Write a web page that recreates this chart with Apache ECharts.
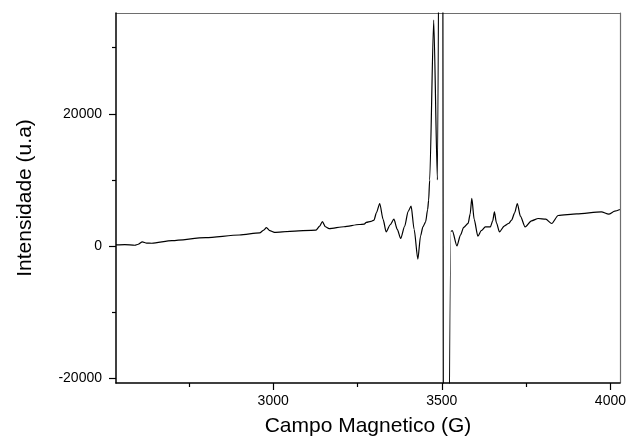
<!DOCTYPE html>
<html>
<head>
<meta charset="utf-8">
<script src="https://cdn.jsdelivr.net/npm/echarts@6/dist/echarts.min.js"></script>
<style>
html,body{margin:0;padding:0;background:#fff;}
#chart{width:629px;height:444px;}
</style>
</head>
<body>
<div id="chart"></div>
<script>
// Magnetic field (G)
const fieldG = [
  2534, 2560, 2590, 2600, 2612, 2625, 2640, 2700, 2800, 2900,
  2960, 2972, 2980, 2990, 3004, 3050, 3127, 3138, 3146, 3155,
  3166, 3210, 3255, 3270, 3276, 3290, 3299, 3306, 3316, 3326,
  3335, 3347, 3358, 3368, 3378, 3390, 3400, 3409, 3418, 3429,
  3437, 3444, 3452, 3458, 3461, 3464, 3476, 3487, 3500, 3508,
  3527, 3531, 3545, 3555, 3565, 3578, 3584, 3589, 3596, 3607,
  3617, 3629, 3644, 3651, 3656, 3662, 3671, 3685, 3698, 3707,
  3716, 3724, 3733, 3747, 3766, 3786, 3808, 3826, 3845, 3900,
  3973, 3995, 4013, 4028
];
// Intensity (u.a)
const intensity = [
  150, 200, 100, 250, 600, 420, 400, 800, 1250, 1650,
  1970, 2400, 2780, 2300, 2050, 2200, 2400, 3000, 3680, 2900,
  2620, 2900, 3240, 3300, 3550, 3700, 3900, 5000, 6420, 4000,
  2120, 3200, 4040, 2500, 1120, 3000, 5200, 6010, 2500, -2010,
  1500, 2880, 3640, 5500, 6920, 9950, 34200, 10000, 150000, -150000,
  2200, 2300, 0, 1600, 2800, 3400, 4800, 7180, 4000, 1470,
  2300, 2880, 2880, 3800, 5150, 3500, 2120, 3000, 3390, 3890,
  5000, 6420, 4500, 2880, 3790, 4150, 4050, 3390, 4600, 4850,
  5150, 4800, 5260, 5510
];
const xMajorTicks = [3000, 3500, 4000];
const xMinorTicks = [2750, 3250, 3750];
const yMajorTicks = [-20000, 0, 20000];
const yMinorTicks = [-10000, 10000, 30000];
const xRange = [2534, 4028];
const yRange = [-20758, 35258];

const seriesData = fieldG.map((x, i) => [x, intensity[i]]);

const chart = echarts.init(document.getElementById('chart'), null, {renderer: 'canvas'});
const font = 'Liberation Sans, Arial, sans-serif';
const plain = v => String(v);
const frameAxis = {
  axisLine: {show: true, onZero: false, lineStyle: {color: '#6e6e6e', width: 1.2}},
  axisTick: {show: false}, axisLabel: {show: false}, splitLine: {show: false}
};
chart.setOption({
  animation: false,
  backgroundColor: '#fff',
  grid: {left: 116, right: 7, top: 13, bottom: 61},
  xAxis: [{
    type: 'value', min: xRange[0], max: xRange[1],
    name: 'Campo Magnetico (G)', nameLocation: 'middle', nameGap: 33,
    nameTextStyle: {fontFamily: font, fontSize: 21, color: '#000'},
    axisLine: {show: true, onZero: false, lineStyle: {color: '#000', width: 1.5}},
    axisTick: {show: true, customValues: xMajorTicks, length: 7, lineStyle: {color: '#000', width: 1.2}},
    axisLabel: {customValues: xMajorTicks, formatter: plain, margin: 11, fontFamily: font, fontSize: 14, color: '#000'},
    splitLine: {show: false}, z: 5
  }, {
    type: 'value', min: xRange[0], max: xRange[1], position: 'bottom',
    axisLine: {show: false, onZero: false},
    axisTick: {show: true, customValues: xMinorTicks, length: 4, lineStyle: {color: '#000', width: 1.2}},
    axisLabel: {show: false},
    splitLine: {show: false}
  }, Object.assign({type: 'value', min: xRange[0], max: xRange[1], position: 'top'}, frameAxis)],
  yAxis: [{
    type: 'value', min: yRange[0], max: yRange[1],
    name: 'Intensidade (u.a)', nameLocation: 'middle', nameGap: 80,
    nameTextStyle: {fontFamily: font, fontSize: 21, color: '#000'},
    axisLine: {show: true, onZero: false, lineStyle: {color: '#000', width: 1.5}},
    axisTick: {show: true, customValues: yMajorTicks, length: 7, lineStyle: {color: '#000', width: 1.2}},
    axisLabel: {customValues: yMajorTicks, formatter: plain, margin: 14, fontFamily: font, fontSize: 14, color: '#000'},
    splitLine: {show: false}, z: 5
  }, {
    type: 'value', min: yRange[0], max: yRange[1], position: 'left',
    axisLine: {show: false, onZero: false},
    axisTick: {show: true, customValues: yMinorTicks, length: 4, lineStyle: {color: '#000', width: 1.2}},
    axisLabel: {show: false},
    splitLine: {show: false}
  }, Object.assign({type: 'value', min: yRange[0], max: yRange[1], position: 'right'}, frameAxis)],
  series: [{
    type: 'line', data: seriesData, showSymbol: false, symbol: 'none',
    smooth: 0.25, smoothMonotone: 'x', clip: true,
    lineStyle: {color: '#000', width: 1.2}
  }]
});
</script>
</body>
</html>
